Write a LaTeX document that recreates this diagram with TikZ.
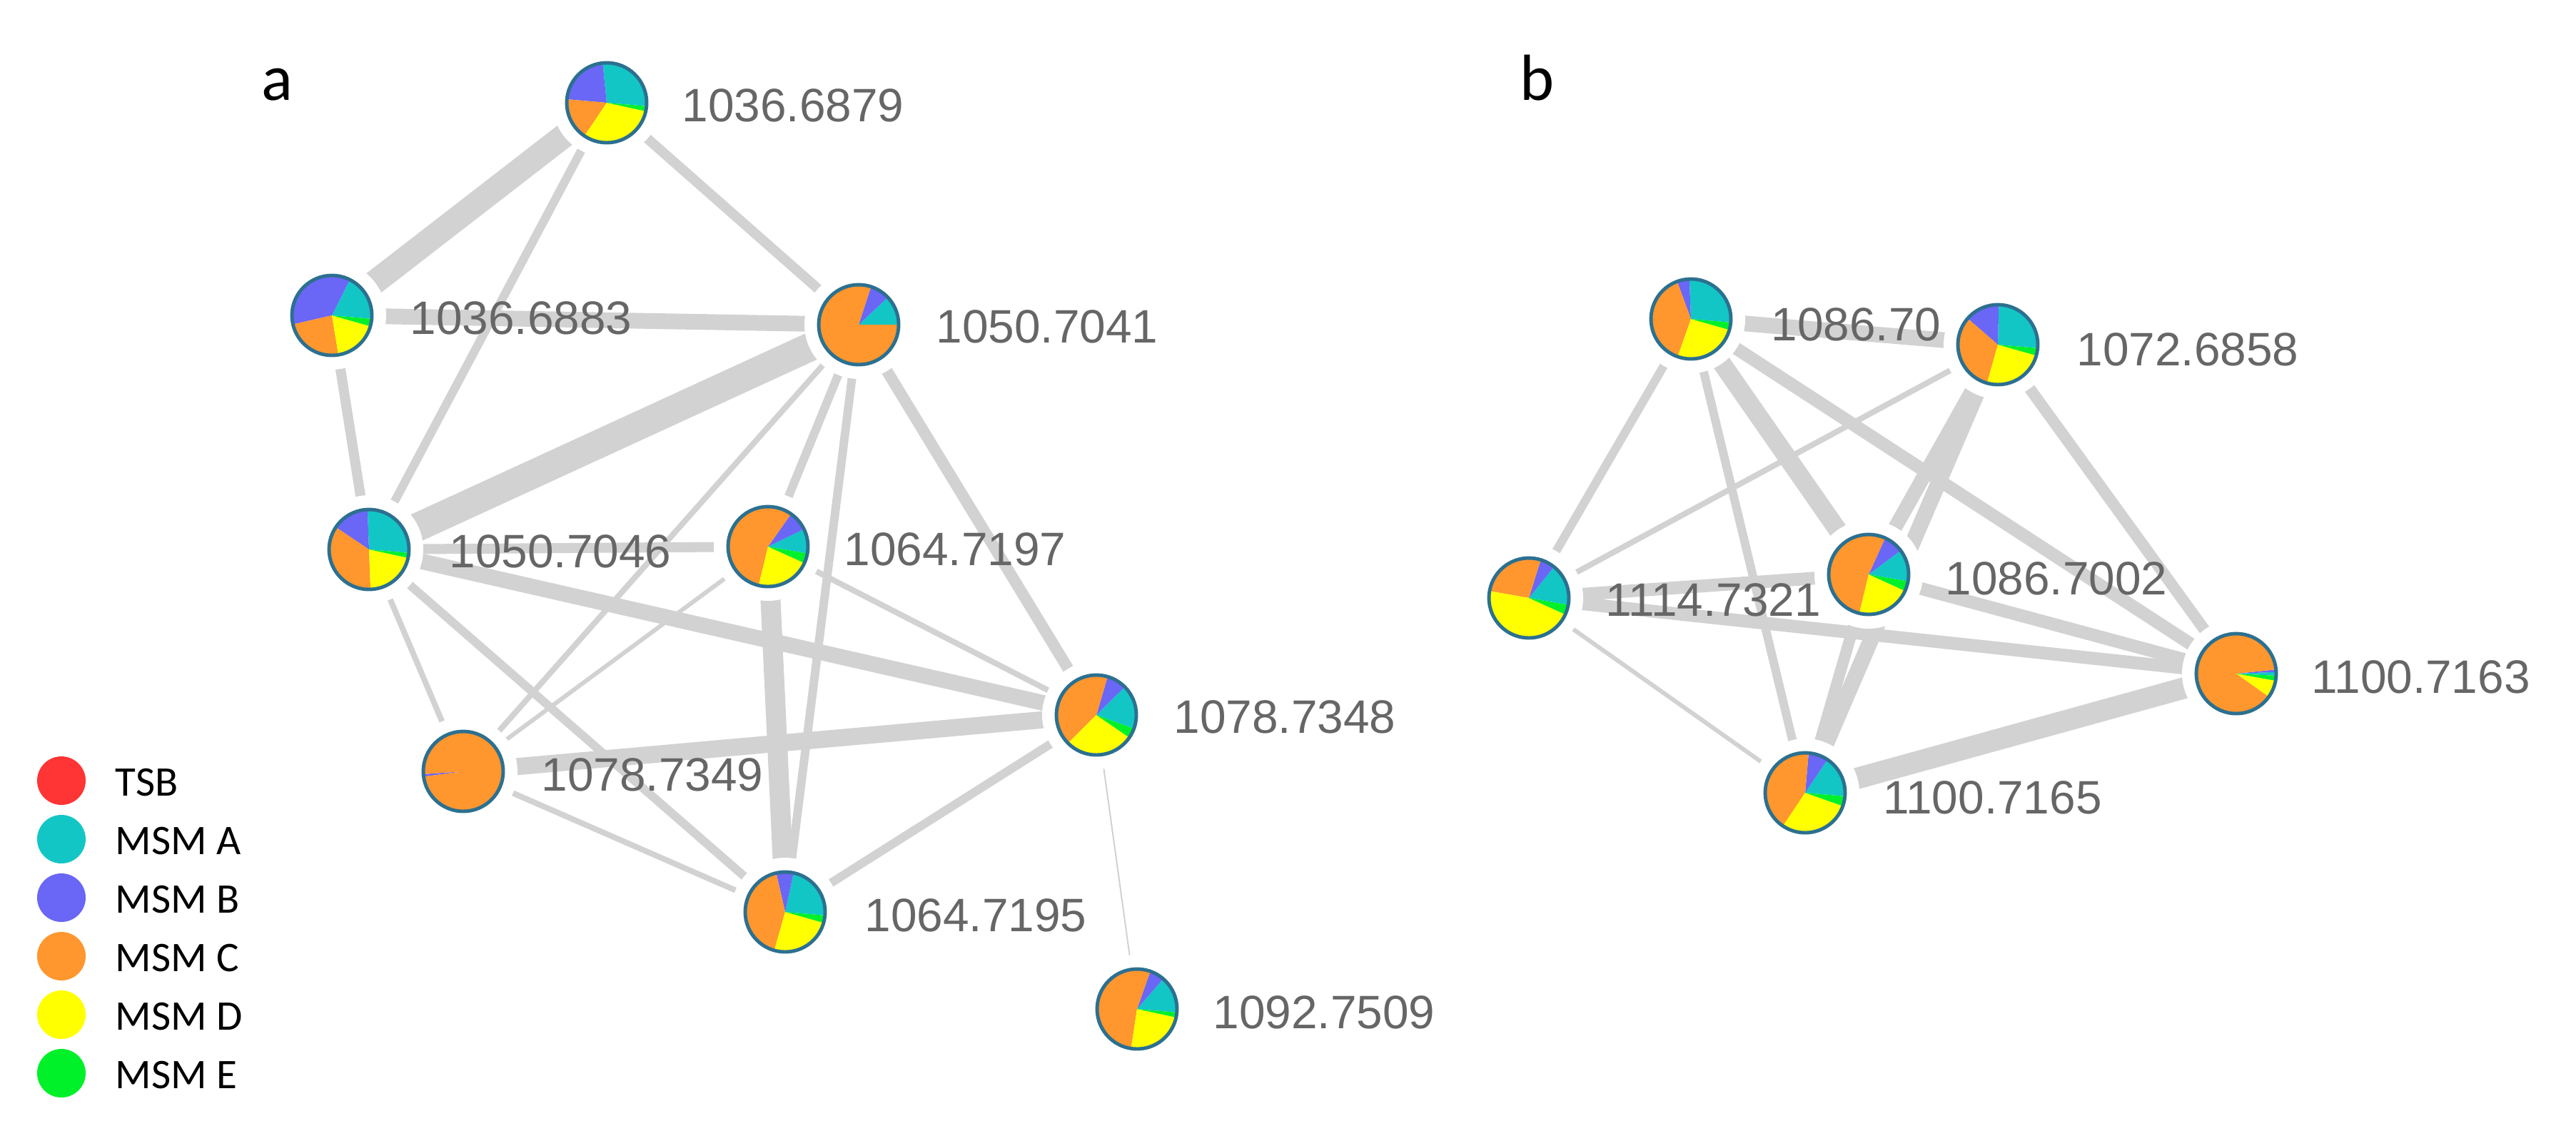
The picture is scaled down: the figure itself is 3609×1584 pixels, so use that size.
\documentclass[tikz,border=0pt]{standalone}
\usepackage{fontspec}
\setmainfont{Liberation Sans}
\newfontfamily\legendfont{Carlito}

\definecolor{colA}{HTML}{13C6C6}
\definecolor{colB}{HTML}{6A66F6}
\definecolor{colC}{HTML}{FF962E}
\definecolor{colD}{HTML}{FFFF00}
\definecolor{colE}{HTML}{00F02A}
\definecolor{colTSB}{HTML}{FF3434}
\definecolor{edgegray}{HTML}{D2D2D2}
\definecolor{rimcol}{HTML}{2C7090}
\definecolor{labelgray}{HTML}{666666}

\tikzset{
  edge/.style={draw=edgegray, line width=#1*0.2845pt},
  mass/.style={anchor=west, inner sep=0pt, text=labelgray, font=\fontsize{18.7}{20}\selectfont},
  panel/.style={anchor=base, inner sep=0pt, font=\legendfont\fontsize{26}{28}\selectfont},
  legendtext/.style={anchor=west, inner sep=0pt, font=\legendfont\fontsize{16.8}{18}\selectfont}
}

% Kreisdiagramm: Mittelpunkt, Startwinkel, Anteile/Farben
\newcommand{\piemark}[3]{%
  \fill[white] (#1) circle (76);
  \gdef\pieacc{#2}%
  \foreach \f/\c in {#3} {%
    \pgfmathsetmacro\pieend{\pieacc+360*\f}%
    \fill[\c] (#1) -- ++(\pieacc:56) arc[start angle=\pieacc, end angle=\pieend, radius=56] -- cycle;
    \global\let\pieacc\pieend
  }%
  \draw[rimcol, line width=1.4pt] (#1) circle (56);
}

\begin{document}
\begin{tikzpicture}[x=0.01cm, y=0.01cm]
	\useasboundingbox (0,0) rectangle (3609,-1584);
	
	% Knoten a
	\coordinate (n1) at (850,-144);
	\coordinate (n2) at (465,-442);
	\coordinate (n3) at (1203,-455);
	\coordinate (n4) at (517,-770);
	\coordinate (n5) at (1076,-766);
	\coordinate (n6) at (649,-1081);
	\coordinate (n7) at (1536,-1002);
	\coordinate (n8) at (1100,-1278);
	\coordinate (n9) at (1593,-1414);
	
	% Knoten b
	\coordinate (m1) at (2369,-447);
	\coordinate (m2) at (2799,-483);
	\coordinate (m3) at (2142,-838);
	\coordinate (m4) at (2618,-805);
	\coordinate (m5) at (3133,-944);
	\coordinate (m6) at (2529,-1111);
	
	% Kanten a
	\draw[edge=34] (n1) -- (n2);
	\draw[edge=12] (n1) -- (n4);
	\draw[edge=14] (n1) -- (n3);
	\draw[edge=22] (n2) -- (n3);
	\draw[edge=14] (n2) -- (n4);
	\draw[edge=40] (n3) -- (n4);
	\draw[edge=8] (n3) -- (n6);
	\draw[edge=12] (n3) -- (n5);
	\draw[edge=12] (n3) -- (n8);
	\draw[edge=16] (n3) -- (n7);
	\draw[edge=14] (n4) -- (n5);
	\draw[edge=8] (n4) -- (n6);
	\draw[edge=12] (n4) -- (n8);
	\draw[edge=22] (n4) -- (n7);
	\draw[edge=6] (n5) -- (n6);
	\draw[edge=28] (n5) -- (n8);
	\draw[edge=8] (n5) -- (n7);
	\draw[edge=24] (n6) -- (n7);
	\draw[edge=8] (n6) -- (n8);
	\draw[edge=12] (n7) -- (n8);
	\draw[edge=2] (n7) -- (n9);
	
	% Kanten b
	\draw[edge=22] (m1) -- (m2);
	\draw[edge=12] (m1) -- (m3);
	\draw[edge=26] (m1) -- (m4);
	\draw[edge=12] (m1) -- (m6);
	\draw[edge=18] (m1) -- (m5);
	\draw[edge=8] (m2) -- (m3);
	\draw[edge=20] (m2) -- (m4);
	\draw[edge=22] (m2) -- (m6);
	\draw[edge=16] (m2) -- (m5);
	\draw[edge=18] (m3) -- (m4);
	\draw[edge=18] (m3) -- (m5);
	\draw[edge=6] (m3) -- (m6);
	\draw[edge=18] (m4) -- (m5);
	\draw[edge=16] (m4) -- (m6);
	\draw[edge=30] (m6) -- (m5);
	
	% Beschriftungen
	\node[mass] (l1) at (955,-148) {1036.6879};
	\node[mass] (l2) at (574,-446) {1036.6883};
	\node[mass] (l3) at (1311,-458) {1050.7041};
	\node[mass] (l4) at (629,-773) {1050.7046};
	\node[mass] (l5) at (1182,-770) {1064.7197};
	\node[mass] (l6) at (758,-1086) {1078.7349};
	\node[mass] (l7) at (1644,-1005) {1078.7348};
	\node[mass] (l8) at (1211,-1283) {1064.7195};
	\node[mass] (l9) at (1699,-1419) {1092.7509};
	\node[mass] (k1) at (2481,-455) {1086.70};
	\node[mass] (k2) at (2909,-490) {1072.6858};
	\node[mass] (k3) at (2249,-841) {1114.7321};
	\node[mass] (k4) at (2725,-811) {1086.7002};
	\node[mass] (k5) at (3238,-949) {1100.7163};
	\node[mass] (k6) at (2638,-1118) {1100.7165};
	
	% Kreisdiagramme a
	\piemark{n1}{-5}{.28/colA,.22/colB,.17/colC,.31/colD,.02/colE}
	\piemark{n2}{-5}{.19/colA,.36/colB,.24/colC,.18/colD,.03/colE}
	\piemark{n3}{0}{.12/colA,.08/colB,.80/colC}
	\piemark{n4}{-5}{.27/colA,.15/colB,.35/colC,.21/colD,.02/colE}
	\piemark{n5}{-10}{.10/colA,.08/colB,.56/colC,.22/colD,.04/colE}
	\piemark{n6}{184}{.01/colB,.99/colC}
	\piemark{n7}{-20}{.18/colA,.08/colB,.42/colC,.28/colD,.04/colE}
	\piemark{n8}{-5}{.23/colA,.07/colB,.42/colC,.25/colD,.03/colE}
	\piemark{n9}{-5}{.15/colA,.06/colB,.53/colC,.24/colD,.02/colE}
	
	% Kreisdiagramme b
	\piemark{m1}{-5}{.27/colA,.05/colB,.39/colC,.26/colD,.03/colE}
	\piemark{m2}{-5}{.26/colA,.14/colB,.32/colC,.25/colD,.03/colE}
	\piemark{m3}{-10}{.17/colA,.06/colB,.27/colC,.46/colD,.04/colE}
	\piemark{m4}{-10}{.13/colA,.08/colB,.53/colC,.22/colD,.04/colE}
	\piemark{m5}{-3}{.015/colA,.01/colB,.885/colC,.07/colD,.02/colE}
	\piemark{m6}{-5}{.17/colA,.08/colB,.42/colC,.29/colD,.04/colE}
	
	% Teilbilder
	\node[panel] (pa) at (388,-140) {a};
	\node[panel] (pb) at (2153,-140) {b};
	
	% Legende
	\foreach \c/\t [count=\i] in {colTSB/TSB,colA/MSM A,colB/MSM B,colC/MSM C,colD/MSM D,colE/MSM E} {
		\fill[\c] (86,{-1094-82*(\i-1)}) circle (34);
		\node[legendtext] (leg\i) at (161,{-1097-82*(\i-1)}) {\t};
	}
\end{tikzpicture}
\end{document}
